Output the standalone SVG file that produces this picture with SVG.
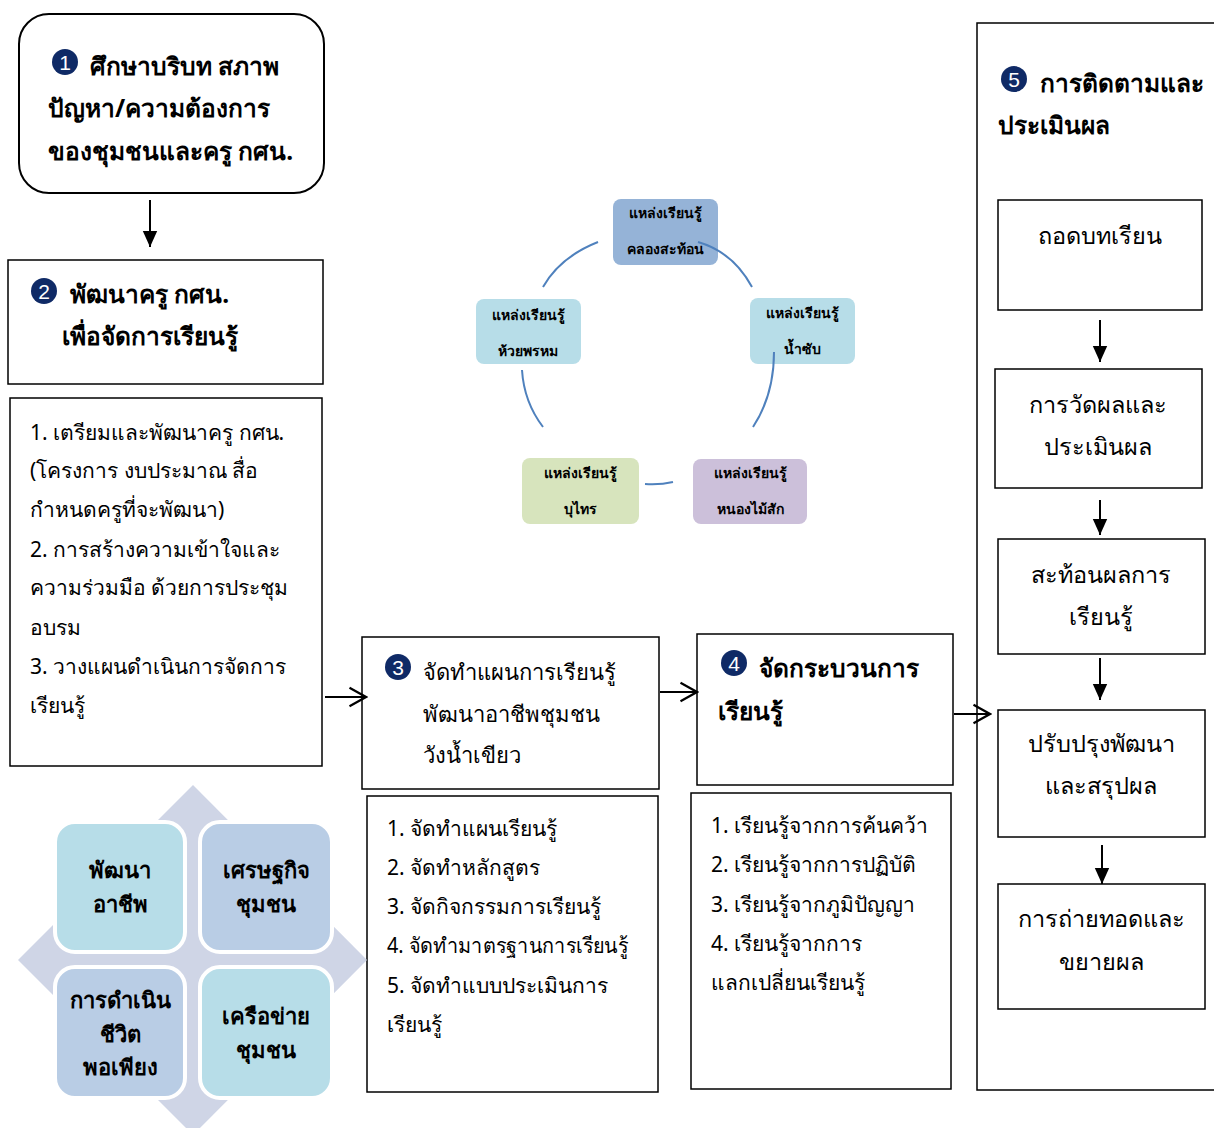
<svg xmlns="http://www.w3.org/2000/svg" width="1214" height="1128" viewBox="0 0 1214 1128">
<style>
.t{font-family:"Noto Sans","Liberation Sans",sans-serif;fill:#000}
.b{font-weight:bold}
.h{font-size:24.5px}
.n{font-size:21px}
.s5{font-size:23.5px}
.box{fill:#fff;stroke:#000;stroke-width:1.5}
.num{fill:#0f2a66}
.numt{font-family:"Liberation Sans",sans-serif;font-size:21px;fill:#fff;text-anchor:middle}
.src{font-family:"Noto Sans","Liberation Sans",sans-serif;font-size:14px;font-weight:bold;text-anchor:middle;fill:#000}
.arc{fill:none;stroke:#4f81bd;stroke-width:2}
.ln{stroke:#000;stroke-width:2;fill:none}
.mx{stroke:#fff;stroke-width:4}
.mt{font-family:"Noto Sans","Liberation Sans",sans-serif;font-size:22px;font-weight:bold;text-anchor:middle;fill:#000}
.c{text-anchor:middle}
</style>
<defs>
<marker id="tri" viewBox="0 0 10 10" refX="10" refY="5" markerWidth="16" markerHeight="16" markerUnits="userSpaceOnUse" orient="auto">
<path d="M0,0.5 L10,5 L0,9.5 z" fill="#000"/>
</marker>
<marker id="open" viewBox="0 0 12 12" refX="11" refY="6" markerWidth="22" markerHeight="22" markerUnits="userSpaceOnUse" orient="auto">
<path d="M2,1 L11,6 L2,11" fill="none" stroke="#000" stroke-width="1.2"/>
</marker>
</defs>

<g id="node1">
<rect x="19" y="14" width="305" height="179" rx="30" fill="#fff" stroke="#000" stroke-width="2"/>
<circle class="num" cx="65" cy="62" r="13"/><text class="numt" x="65" y="69.5">1</text>
<text class="t b h" x="90" y="75">ศึกษาบริบท สภาพ</text>
<text class="t b h" x="48" y="117">ปัญหา/ความต้องการ</text>
<text class="t b h" x="48" y="160">ของชุมชนและครู กศน.</text>
</g>

<g id="node2">
<rect class="box" x="8" y="260" width="315" height="124"/>
<circle class="num" cx="44" cy="291" r="13"/><text class="numt" x="44" y="298.5">2</text>
<text class="t b h" x="70" y="303">พัฒนาครู กศน.</text>
<text class="t b h" x="62" y="345">เพื่อจัดการเรียนรู้</text>
</g>

<g id="node2-list">
<rect class="box" x="10" y="398" width="312" height="368"/>
<text class="t n" x="30" y="440">1. เตรียมและพัฒนาครู กศน.</text>
<text class="t n" x="30" y="478">(โครงการ งบประมาณ สื่อ</text>
<text class="t n" x="30" y="517">กำหนดครูที่จะพัฒนา)</text>
<text class="t n" x="30" y="557">2. การสร้างความเข้าใจและ</text>
<text class="t n" x="30" y="595">ความร่วมมือ ด้วยการประชุม</text>
<text class="t n" x="30" y="635">อบรม</text>
<text class="t n" x="30" y="674">3. วางแผนดำเนินการจัดการ</text>
<text class="t n" x="30" y="713">เรียนรู้</text>
</g>

<g id="node3">
<rect class="box" x="362" y="637" width="297" height="152"/>
<circle class="num" cx="398" cy="667" r="13"/><text class="numt" x="398" y="674.5">3</text>
<text class="t" style="font-size:22px" x="423" y="680">จัดทำแผนการเรียนรู้</text>
<text class="t" style="font-size:22px" x="423" y="722">พัฒนาอาชีพชุมชน</text>
<text class="t" style="font-size:22px" x="423" y="763">วังน้ำเขียว</text>
</g>

<g id="node3-list">
<rect class="box" x="367" y="796" width="291" height="296"/>
<text class="t n" x="387" y="836">1. จัดทำแผนเรียนรู้</text>
<text class="t n" x="387" y="875">2. จัดทำหลักสูตร</text>
<text class="t n" x="387" y="914">3. จัดกิจกรรมการเรียนรู้</text>
<text class="t n" x="387" y="953" textLength="241" lengthAdjust="spacingAndGlyphs">4. จัดทำมาตรฐานการเรียนรู้</text>
<text class="t n" x="387" y="993">5. จัดทำแบบประเมินการ</text>
<text class="t n" x="387" y="1032">เรียนรู้</text>
</g>

<g id="node4">
<rect class="box" x="697" y="634" width="256" height="151"/>
<circle class="num" cx="734" cy="663" r="13"/><text class="numt" x="734" y="670.5">4</text>
<text class="t b h" x="759" y="677">จัดกระบวนการ</text>
<text class="t b h" x="718" y="720">เรียนรู้</text>
</g>

<g id="node4-list">
<rect class="box" x="691" y="793" width="260" height="296"/>
<text class="t n" x="711" y="833">1. เรียนรู้จากการค้นคว้า</text>
<text class="t n" x="711" y="872">2. เรียนรู้จากการปฏิบัติ</text>
<text class="t n" x="711" y="912">3. เรียนรู้จากภูมิปัญญา</text>
<text class="t n" x="711" y="951">4. เรียนรู้จากการ</text>
<text class="t n" x="711" y="990">แลกเปลี่ยนเรียนรู้</text>
</g>

<g id="node5">
<rect class="box" x="977" y="23" width="260" height="1067"/>
<circle class="num" cx="1014" cy="79" r="13"/><text class="numt" x="1014" y="86.5">5</text>
<text class="t b h" x="1040" y="92">การติดตามและ</text>
<text class="t b h" x="998" y="134">ประเมินผล</text>
</g>

<g id="node5a">
<rect class="box" x="998" y="200" width="204" height="110"/>
<text class="t s5 c" x="1100" y="244">ถอดบทเรียน</text>
</g>
<g id="node5b">
<rect class="box" x="995" y="369" width="207" height="119"/>
<text class="t s5 c" x="1098" y="413">การวัดผลและ</text>
<text class="t s5 c" x="1098" y="455">ประเมินผล</text>
</g>
<g id="node5c">
<rect class="box" x="998" y="539" width="207" height="115"/>
<text class="t s5 c" x="1101" y="583">สะท้อนผลการ</text>
<text class="t s5 c" x="1101" y="625">เรียนรู้</text>
</g>
<g id="node5d">
<rect class="box" x="998" y="710" width="207" height="127"/>
<text class="t s5 c" x="1101" y="752">ปรับปรุงพัฒนา</text>
<text class="t s5 c" x="1101" y="794">และสรุปผล</text>
</g>
<g id="node5e">
<rect class="box" x="998" y="884" width="207" height="125"/>
<text class="t s5 c" x="1101" y="927">การถ่ายทอดและ</text>
<text class="t s5 c" x="1101" y="970">ขยายผล</text>
</g>

<g id="sources">
<g id="src1"><rect x="613" y="199" width="105" height="66" rx="8" fill="#95b3d7"/>
<text class="src" x="665" y="218">แหล่งเรียนรู้</text><text class="src" x="665" y="254">คลองสะท้อน</text></g>
<g id="src2"><rect x="750" y="298" width="105" height="66" rx="8" fill="#b7dde8"/>
<text class="src" x="802" y="318">แหล่งเรียนรู้</text><text class="src" x="802" y="354">น้ำซับ</text></g>
<g id="src3"><rect x="693" y="459" width="114" height="65" rx="8" fill="#ccc0da"/>
<text class="src" x="750" y="478">แหล่งเรียนรู้</text><text class="src" x="750" y="514">หนองไม้สัก</text></g>
<g id="src4"><rect x="522" y="458" width="117" height="66" rx="8" fill="#d7e4bd"/>
<text class="src" x="580" y="478">แหล่งเรียนรู้</text><text class="src" x="580" y="514">บุไทร</text></g>
<g id="src5"><rect x="476" y="299" width="105" height="65" rx="8" fill="#b7dde8"/>
<text class="src" x="528" y="320">แหล่งเรียนรู้</text><text class="src" x="528" y="356">ห้วยพรหม</text></g>
</g>

<g id="matrix">
<polygon points="193,785 367,960 193,1135 18,960" fill="#cfd5e6"/>
<g id="m1"><rect class="mx" x="55" y="822" width="130" height="130" rx="20" fill="#b7dde8"/>
<text class="mt" x="120" y="878">พัฒนา</text><text class="mt" x="120" y="912">อาชีพ</text></g>
<g id="m2"><rect class="mx" x="200" y="822" width="132" height="130" rx="20" fill="#b9cde5"/>
<text class="mt" x="266" y="878">เศรษฐกิจ</text><text class="mt" x="266" y="912">ชุมชน</text></g>
<g id="m3"><rect class="mx" x="55" y="967" width="130" height="131" rx="20" fill="#b9cde5"/>
<text class="mt" x="120" y="1008">การดำเนิน</text><text class="mt" x="120" y="1042">ชีวิต</text><text class="mt" x="120" y="1075">พอเพียง</text></g>
<g id="m4"><rect class="mx" x="200" y="967" width="132" height="131" rx="20" fill="#b7dde8"/>
<text class="mt" x="266" y="1024">เครือข่าย</text><text class="mt" x="266" y="1058">ชุมชน</text></g>
</g>

<g id="connectors">
<path class="arc" d="M543,287 Q560,257 598,242"/>
<path class="arc" d="M698,242 Q733,252 752,287"/>
<path class="arc" d="M774,352 Q774,395 753,427"/>
<path class="arc" d="M645,484 Q660,485 673,482"/>
<path class="arc" d="M522,370 Q524,402 543,427"/>
<line class="ln" x1="150" y1="200" x2="150" y2="247" marker-end="url(#tri)"/>
<line class="ln" x1="325" y1="697" x2="366" y2="697" marker-end="url(#open)"/>
<line class="ln" x1="660" y1="692" x2="697" y2="692" marker-end="url(#open)"/>
<line class="ln" x1="954" y1="714" x2="990" y2="714" marker-end="url(#open)"/>
<line class="ln" x1="1100" y1="320" x2="1100" y2="362" marker-end="url(#tri)"/>
<line class="ln" x1="1100" y1="500" x2="1100" y2="535" marker-end="url(#tri)"/>
<line class="ln" x1="1100" y1="658" x2="1100" y2="700" marker-end="url(#tri)"/>
<line class="ln" x1="1102" y1="845" x2="1102" y2="884" marker-end="url(#tri)"/>
</g>
</svg>
